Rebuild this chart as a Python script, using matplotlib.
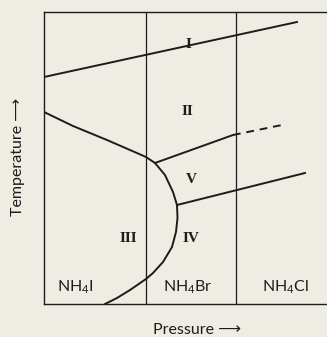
import matplotlib
matplotlib.use("Agg")
import matplotlib.pyplot as plt

plt.rcParams['font.family'] = ['Lato', 'DejaVu Sans']
plt.rcParams['mathtext.default'] = 'regular'

# Data (schematic coordinates: pressure, temperature in arbitrary units)
compound_x = [102, 192]                     # vertical separators between compounds
compound_labels = ['NH$_4$I', 'NH$_4$Br', 'NH$_4$Cl']
compound_label_x = [31, 144, 241]

line_I_II_p = [0, 253]
line_I_II_t = [227, 282]

curve_III_p = [0, 29, 63, 86, 102, 111, 121, 129, 133, 133.5, 132, 128, 119, 109, 102, 86, 73, 61]
curve_III_t = [192, 178, 164, 154, 147, 141, 129, 112, 99, 86, 72, 57, 42, 31, 25, 14, 6, 0]

line_V_II_p = [111, 189]
line_V_II_t = [141, 169]
line_V_II_dash_p = [189, 238]
line_V_II_dash_t = [169, 179]

line_IV_V_p = [133, 261]
line_IV_V_t = [99, 131]

phase_labels = ['I', 'II', 'V', 'III', 'IV']
phase_p = [144, 143, 147, 84, 147]
phase_t = [259, 192, 124, 66, 66]

bg = '#efece4'
ink = '#1c1c1c'

fig = plt.figure(figsize=(3.27, 3.37), dpi=100, facecolor=bg)
ax = fig.add_axes([44/327, 33/337, 283/327, 292/337], facecolor=bg)
ax.set_xlim(0, 283)
ax.set_ylim(0, 292)
ax.set_xticks([])
ax.set_yticks([])
for s in ['left', 'top', 'bottom']:
    ax.spines[s].set_color(ink)
    ax.spines[s].set_linewidth(1.0)
ax.spines['right'].set_visible(False)

for x in compound_x:
    ax.axvline(x, color=ink, lw=0.9)

lw = 1.4
ax.plot(line_I_II_p, line_I_II_t, color=ink, lw=lw)
ax.plot(curve_III_p, curve_III_t, color=ink, lw=lw, solid_joinstyle='round')
ax.plot(line_V_II_p, line_V_II_t, color=ink, lw=lw)
ax.plot(line_V_II_dash_p, line_V_II_dash_t, color=ink, lw=lw, ls=(0, (4, 3)))
ax.plot(line_IV_V_p, line_IV_V_t, color=ink, lw=lw)

for lab, p, t in zip(phase_labels, phase_p, phase_t):
    ax.text(p, t, lab, ha='center', va='center', fontsize=11, fontweight='bold',
            family='Liberation Serif', color=ink)

for lab, x in zip(compound_labels, compound_label_x):
    ax.text(x, 17, lab, ha='center', va='center', fontsize=11.5, color=ink)

fig.text(197/327, 1 - 330/337, 'Pressure \u27f6', ha='center', va='center',
         fontsize=11.5, color=ink)
fig.text(18/327, 1 - 157/337, 'Temperature \u27f6', ha='center', va='center',
         rotation=90, fontsize=11.5, color=ink)

fig.savefig('out.png', dpi=100, facecolor=bg)
